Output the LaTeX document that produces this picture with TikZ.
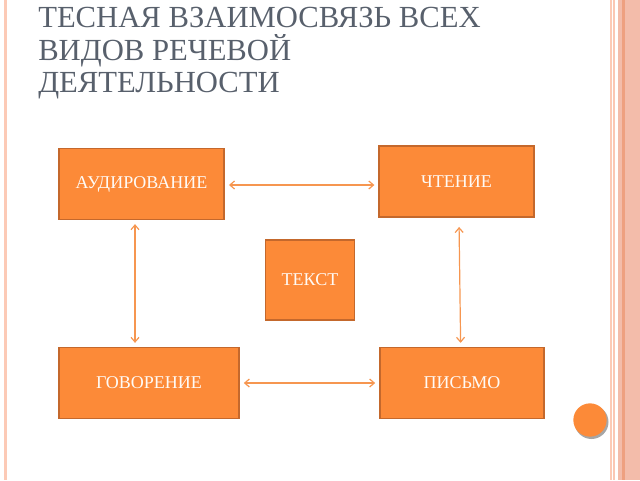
\documentclass[tikz,border=0pt]{standalone}
\usepackage{fontspec}
\setmainfont{Liberation Serif}
\usepackage{tikz}
\usetikzlibrary{arrows.meta}

\definecolor{boxfill}{RGB}{252,138,56}
\definecolor{boxline}{RGB}{196,104,44}
\definecolor{linkcol}{RGB}{246,150,80}
\definecolor{titlecol}{RGB}{88,96,108}
\definecolor{bandcol}{RGB}{243,188,170}
\definecolor{bandline}{RGB}{238,160,128}
\definecolor{edgecol}{RGB}{252,202,182}

\tikzset{
  block/.style={draw=boxline,fill=boxfill,line width=1.2pt,text=white!96!orange,
    font=\fontsize{13.5}{15}\selectfont,inner sep=0pt},
  link/.style={draw=linkcol,line width=0.9pt,{Straight Barb[length=3.5pt,width=6pt]}-{Straight Barb[length=3.5pt,width=6pt]},
    shorten <=3pt,shorten >=3pt}
}

\begin{document}
\begin{tikzpicture}[x=0.75pt,y=0.75pt,yscale=-1,xscale=1]
\useasboundingbox (0,0) rectangle (640,480);

%Shape: Rectangle (page edges)
\fill[edgecol] (4,0) rectangle (7,480);
\fill[edgecol] (610,0) rectangle (612,480);
\fill[edgecol!80!bandcol] (613,0) rectangle (615,480);
\fill[bandcol] (618,0) rectangle (640,480);
\fill[bandline] (622,0) rectangle (625,480);

% Text Node
\node (title) [anchor=north west,inner sep=0pt,align=left,text=titlecol,
  font=\fontsize{23}{24.4}\selectfont] at (38,7)
  {ТЕСНАЯ ВЗАИМОСВЯЗЬ ВСЕХ\\ВИДОВ РЕЧЕВОЙ\\ДЕЯТЕЛЬНОСТИ};

%Shape: Rectangle
\node (aud) [block,minimum width=124pt,minimum height=53pt] at (141.5,184) {АУДИРОВАНИЕ};
%Shape: Rectangle
\node (read) [block,minimum width=116pt,minimum height=53pt] at (456.5,181.5) {ЧТЕНИЕ};
%Shape: Rectangle
\node (text) [block,minimum width=67pt,minimum height=60pt] at (310,280) {ТЕКСТ};
%Shape: Rectangle
\node (speak) [block,minimum width=135pt,minimum height=53pt] at (149,383) {ГОВОРЕНИЕ};
%Shape: Rectangle
\node (write) [block,minimum width=123pt,minimum height=53pt] at (462,383) {ПИСЬМО};

%Straight Lines
\draw[link] (aud.east |- 0,185) -- (read.west |- 0,185);
\draw[link] (speak.east) -- (write.west);
\draw[link] (aud.south -| 135,0) -- (speak.north -| 135,0);
\draw[link] ([xshift=1.9pt,yshift=4pt]read.south) -- ([xshift=-1pt]write.north);

%Shape: Circle
\fill[black!35] (591.5,422) circle (17);
\node (dot) [circle,fill=boxfill,minimum size=25pt,inner sep=0pt] at (590,420) {};

\end{tikzpicture}
\end{document}
